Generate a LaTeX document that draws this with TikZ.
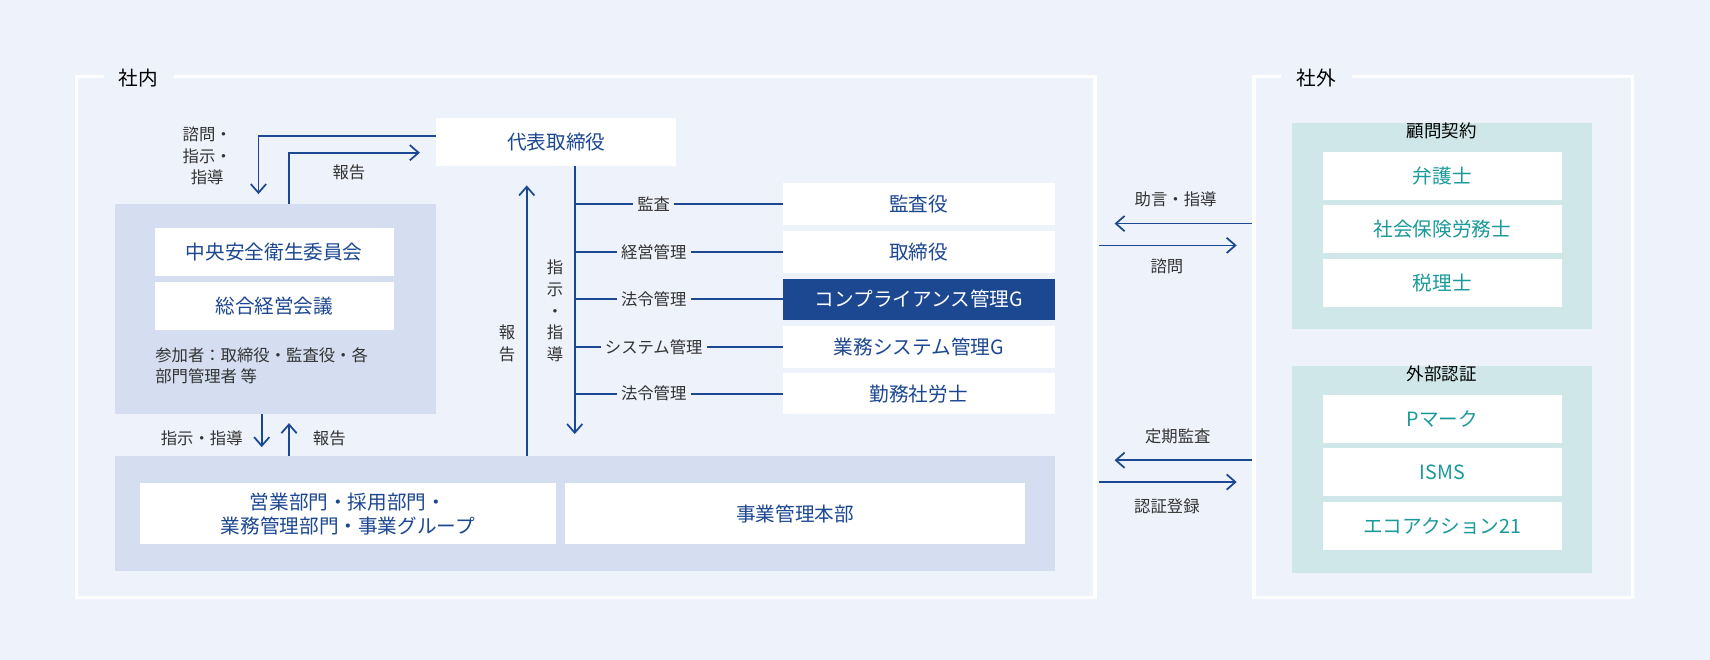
\documentclass[tikz,border=0pt]{standalone}
\usepackage{fontspec}
\setmainfont{Noto Sans CJK JP}
\usetikzlibrary{arrows.meta,positioning}
\definecolor{bgblue}{HTML}{EEF2FB}
\definecolor{grpblue}{HTML}{D4DEF0}
\definecolor{navy}{HTML}{1C4791}
\definecolor{grpteal}{HTML}{CFE7E8}
\definecolor{teal}{HTML}{1A9A9A}
\definecolor{txt}{HTML}{333333}
\tikzset{
  wbox/.style={fill=white,inner sep=0pt,text=navy,font=\fontsize{9}{11}\selectfont,align=center},
  tbox/.style={wbox,text=teal,minimum width=109.5pt,minimum height=22pt},
  rbox/.style={wbox,minimum width=124.5pt,minimum height=19pt},
  lbl/.style={text=txt,font=\fontsize{7.5}{10}\selectfont,inner sep=1pt,align=center},
  link/.style={navy,line width=0.8pt},
  arr/.style={link,-{Straight Barb[length=4pt,width=7pt]}},
  frame/.style={white,line width=1.6pt}
}
\begin{document}
\begin{tikzpicture}[x=0.5pt,y=-0.5pt]
\fill[bgblue] (0,0) rectangle (1568,605);
\useasboundingbox (0,0) rectangle (1568,605);
% frames
\draw[frame] (95,70)--(70,70)--(70,548)--(1004,548)--(1004,70)--(160,70);
\node[lbl,font=\fontsize{9}{11}\selectfont,text=black] (shanai) at (127,72) {社内};
\draw[frame] (1175,70)--(1150,70)--(1150,548)--(1497,548)--(1497,70)--(1240,70);
\node[lbl,font=\fontsize{9}{11}\selectfont,text=black] (shagai) at (1207,72) {社外};
% president
\node[wbox,minimum width=110pt,minimum height=22pt] (ceo) at (510,130) {代表取締役};
% left group
\fill[grpblue] (105,187) rectangle (400,380);
\coordinate (grptop) at (265,187);
\node[wbox,minimum width=109.5pt,minimum height=22pt] (chuo) at (251.5,231) {中央安全衛生委員会};
\node[wbox,minimum width=109.5pt,minimum height=22pt] (sogo) at (251.5,281) {総合経営会議};
\node[lbl,align=left,anchor=north west] (sanka) at (140,316) {参加者：取締役・監査役・各\\部門管理者 等};
\coordinate (q1) at (237,125);
\coordinate (q2) at (237,178);
\draw[arr] (ceo.west|-q1) -| (q2);
\coordinate (r1) at (265,140);
\coordinate (r2) at (385,140);
\draw[arr] (grptop) |- (r2);
\node[lbl] (shimon) at (190,143) {諮問・\\指示・\\指導};
\node[lbl] (hokoku1) at (320,158) {報告};
% right members
\node[rbox] (kansa) at (842.5,187) {監査役};
\node[rbox] (torishi) at (842.5,231) {取締役};
\node[rbox,fill=navy,text=white] (comp) at (842.5,274.5) {コンプライアンス管理G};
\node[rbox] (gyomu) at (842.5,318) {業務システム管理G};
\node[rbox] (kinmu) at (842.5,361) {勤務社労士};
\coordinate (vend) at (527,398);
\draw[arr] (ceo.south-|vend) -- (vend);
\foreach \n/\t in {kansa/監査,torishi/経営管理,comp/法令管理,gyomu/システム管理,kinmu/法令管理}{
  \coordinate (b-\n) at (527,0|-\n.west);
  \draw[link] (b-\n) -- (\n.west) node[lbl,pos=0.38,fill=bgblue,inner sep=2pt] {\t};
}
\node[lbl] (shiji) at (509,285) {指\\示\\・\\指\\導};
% bottom group
\fill[grpblue] (105,418) rectangle (967,524);
\node[wbox,minimum width=191pt,minimum height=28pt] (eigyo) at (319,471) {営業部門・採用部門・\\業務管理部門・事業グループ};
\node[wbox,minimum width=211pt,minimum height=28pt] (jigyo) at (729,471) {事業管理本部};
\coordinate (up1) at (483,418);
\coordinate (up2) at (483,170);
\draw[arr] (up1) -- (up2);
\node[lbl] (hokoku2) at (465,315) {報\\告};
\coordinate (d1) at (240,380);
\coordinate (d2) at (240,410);
\draw[arr] (d1) -- (d2);
\coordinate (u1) at (265,418);
\coordinate (u2) at (265,388);
\draw[arr] (u1) -- (u2);
\node[lbl] (shiji2) at (185,402) {指示・指導};
\node[lbl] (hokoku3) at (302,402) {報告};
% outside
\fill[grpteal] (1185,113) rectangle (1460,302);
\node[lbl,font=\fontsize{8}{10}\selectfont,text=black] (komon) at (1322,120) {顧問契約};
\node[tbox] (bengo) at (1322.5,161) {弁護士};
\node[tbox] (sharo) at (1322.5,210) {社会保険労務士};
\node[tbox] (zeiri) at (1322.5,259.5) {税理士};
\fill[grpteal] (1185,336) rectangle (1460,525);
\node[lbl,font=\fontsize{8}{10}\selectfont,text=black] (ninsho) at (1322,343) {外部認証};
\node[tbox] (pmark) at (1322.5,384) {Pマーク};
\node[tbox] (isms) at (1322.5,433) {ISMS};
\node[tbox] (eco) at (1322.5,482.5) {エコアクション21};
% exchange arrows
\coordinate (e1) at (1148,205); \coordinate (e2) at (1022,205);
\coordinate (e3) at (1008,225); \coordinate (e4) at (1134,225);
\draw[arr] (e1) -- (e2);
\draw[arr] (e3) -- (e4);
\node[lbl] (jogen) at (1078,183) {助言・指導};
\node[lbl] (shimon2) at (1070,244) {諮問};
\coordinate (f1) at (1148,422); \coordinate (f2) at (1022,422);
\coordinate (f3) at (1008,442); \coordinate (f4) at (1134,442);
\draw[arr] (f1) -- (f2);
\draw[arr] (f3) -- (f4);
\node[lbl] (teiki) at (1080,400) {定期監査};
\node[lbl] (toroku) at (1070,464) {認証登録};
\end{tikzpicture}
\end{document}
